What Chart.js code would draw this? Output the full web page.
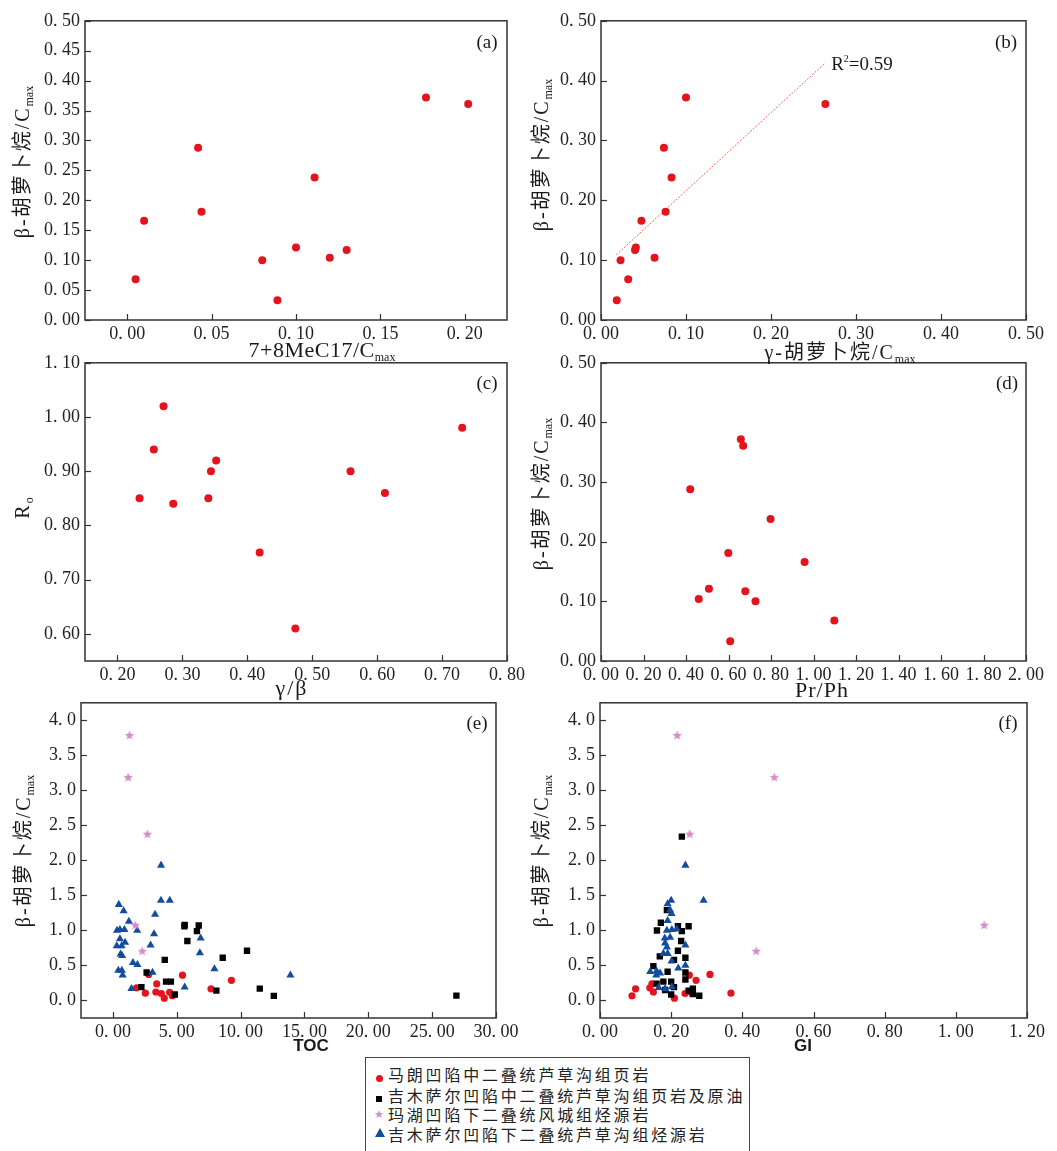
<!DOCTYPE html>
<html><head><meta charset="utf-8">
<script src="https://cdn.jsdelivr.net/npm/chart.js@4.4.0/dist/chart.umd.min.js"></script>
<style>
html,body{margin:0;padding:0;background:#fff;}
body{width:1057px;height:1151px;position:relative;overflow:hidden;font-family:"Liberation Serif","Noto Sans CJK SC",serif;color:#1a1a1a;}
.t{position:absolute;white-space:nowrap;transform:translate(-50%,-50%);line-height:1;}
.rot{transform:translate(-50%,-50%) rotate(-90deg);}
.ttl{font-size:20px;letter-spacing:2px;}
.sub{font-size:12px;letter-spacing:0;position:relative;top:4px;}
.sup{font-size:10px;position:relative;top:-8px;}
.plab{font-size:19px;}
#legend{position:absolute;left:365px;top:1057px;width:385px;height:110px;border:1px solid #444;box-sizing:border-box;}
.lrow{position:absolute;left:22px;font-family:"Noto Sans CJK SC",sans-serif;font-size:16px;letter-spacing:2.8px;line-height:1;transform:translateY(-50%);color:#222;white-space:nowrap;}
.mk{position:absolute;}
</style></head><body>
<script>
// ---------------- DATA ----------------
// panels (a)-(d): 12 samples (马朗凹陷)
const betaCmax   = [0.068,0.166,0.288,0.181,0.100,0.033,0.121,0.238,0.104,0.117,0.372,0.361];
const meC17Cmax  = [0.005,0.010,0.042,0.044,0.080,0.089,0.100,0.111,0.120,0.130,0.177,0.202];
const gammaCmax  = [0.032,0.0475,0.074,0.076,0.023,0.0185,0.041,0.083,0.063,0.040,0.100,0.264];
const prPh       = [1.098,0.958,0.420,0.599,0.727,0.608,0.508,0.798,0.460,0.679,0.658,0.669];
const gammaBeta  = [0.234,0.256,0.271,0.286,0.340,0.344,0.352,0.419,0.474,0.559,0.612,0.731];
const roValues   = [0.85,0.94,1.02,0.84,0.85,0.90,0.92,0.75,0.61,0.90,0.86,0.98];
const fitX = [0.018,0.264];
const fitY = [0.109,0.430];
// panels (e)-(f)
const redTOC = [4.65,7.68,9.28,1.85,3.79,4.02,3.36,3.43,2.54,4.44,2.80,5.45];
const redGI  = [0.090,0.100,0.270,0.140,0.239,0.209,0.150,0.146,0.368,0.255,0.309,0.251];
const blackTOC  = [2.23,2.64,4.06,4.16,4.54,4.85,5.60,5.62,5.83,6.58,6.72,8.10,8.60,10.50,11.50,12.60,26.90];
const blackBetaE= [0.19,0.40,0.58,0.27,0.27,0.086,1.06,1.08,0.85,0.99,1.07,0.14,0.61,0.71,0.17,0.065,0.07];
const blackGI   = [0.230,0.160,0.171,0.188,0.219,0.249,0.230,0.228,0.219,0.208,0.240,0.150,0.168,0.190,0.240,0.240,0.159,0.178,0.200,0.208,0.183,0.200,0.249,0.261,0.261,0.279];
const blackBetaF= [2.34,1.00,1.11,1.29,1.06,1.06,0.99,0.85,0.71,0.58,0.61,0.49,0.63,0.41,0.40,0.30,0.24,0.27,0.27,0.19,0.15,0.085,0.14,0.17,0.09,0.067];
const blueTOC   = [0.46,0.84,3.77,3.76,4.45,1.25,3.30,0.32,0.55,0.90,1.90,0.55,0.95,0.30,0.68,3.22,2.95,0.60,0.72,1.57,1.92,0.42,0.70,0.76,3.10,1.45,6.87,6.81,7.95,5.62,13.90];
const blueBetaE = [1.37,1.28,1.93,1.43,1.43,1.13,1.23,1.00,1.01,1.01,1.00,0.88,0.83,0.78,0.78,0.95,0.79,0.66,0.64,0.54,0.51,0.43,0.43,0.36,0.40,0.17,0.89,0.68,0.45,0.19,0.36];
const blueGI    = [0.240,0.291,0.200,0.190,0.197,0.201,0.190,0.188,0.202,0.216,0.182,0.197,0.183,0.188,0.240,0.178,0.190,0.201,0.240,0.220,0.141,0.159,0.169,0.158,0.165,0.202,0.183];
const blueBetaF = [1.93,1.43,1.43,1.38,1.29,1.24,1.14,1.00,1.01,1.02,0.89,0.90,0.82,0.76,0.79,0.67,0.67,0.56,0.50,0.46,0.41,0.42,0.39,0.36,0.185,0.195,0.17];
const starBeta = [3.79,3.19,2.38,1.08,0.71];
const starTOC  = [1.30,1.20,2.70,1.75,2.30];
const starGI   = [0.217,0.490,0.252,1.080,0.439];
// tick values
const ticksA_x = [0,0.05,0.10,0.15,0.20];
const ticksA_y = [0,0.05,0.10,0.15,0.20,0.25,0.30,0.35,0.40,0.45,0.50];
const ticksB_x = [0,0.1,0.2,0.3,0.4,0.5];
const ticksB_y = [0,0.1,0.2,0.3,0.4,0.5];
const ticksC_x = [0.2,0.3,0.4,0.5,0.6,0.7,0.8];
const ticksC_y = [0.6,0.7,0.8,0.9,1.0,1.1];
const ticksD_x = [0,0.2,0.4,0.6,0.8,1.0,1.2,1.4,1.6,1.8,2.0];
const ticksD_y = [0,0.1,0.2,0.3,0.4,0.5];
const ticksE_x = [0,5,10,15,20,25,30];
const ticksEF_y= [0,0.5,1.0,1.5,2.0,2.5,3.0,3.5,4.0];
const ticksF_x = [0,0.2,0.4,0.6,0.8,1.0,1.2];

// ---------------- helpers ----------------
const pts=(xs,ys)=>xs.map((x,i)=>({x,y:ys[i]}));
const fmt=(v,d)=>Number(v).toFixed(d).replace('.', '. ');
function starImg(size,color){const c=document.createElement('canvas');c.width=c.height=size;const g=c.getContext('2d');g.fillStyle=color;g.beginPath();const cx=size/2,cy=size/2+0.5,R=size/2,r=R*0.45;for(let i=0;i<10;i++){const a=-Math.PI/2+i*Math.PI/5;const rr=i%2?r:R;g.lineTo(cx+rr*Math.cos(a),cy+rr*Math.sin(a));}g.closePath();g.fill();return c;}
const STAR=starImg(10,'#d48fcb');
const RED={pointStyle:'circle',pointRadius:4,backgroundColor:'#e5141c',borderColor:'#e5141c',borderWidth:0};
const REDS={...RED,pointRadius:3.6};
const BLK={pointStyle:'rect',pointRadius:4.5,backgroundColor:'#000',borderColor:'#000',borderWidth:0};
const BLU={pointStyle:'triangle',pointRadius:4.7,backgroundColor:'#134c9e',borderColor:'#134c9e',borderWidth:0};
const STR={pointStyle:STAR,pointRadius:5,backgroundColor:'#d48fcb',borderColor:'#d48fcb',borderWidth:0};

const framePlugin={id:'frame',afterDraw(chart){const {ctx,chartArea:a,scales:{x,y}}=chart;ctx.save();ctx.strokeStyle='#333';ctx.lineWidth=1.5;ctx.strokeRect(a.left,a.top,a.right-a.left,a.bottom-a.top);ctx.lineWidth=1.2;
 x.ticks.forEach(t=>{const p=Math.round(x.getPixelForValue(t.value))+0.5;ctx.beginPath();ctx.moveTo(p,a.bottom);ctx.lineTo(p,a.bottom-6);ctx.stroke();});
 y.ticks.forEach(t=>{const p=Math.round(y.getPixelForValue(t.value))+0.5;ctx.beginPath();ctx.moveTo(a.left,p);ctx.lineTo(a.left+6,p);ctx.stroke();});
 ctx.restore();}};

function axis(o,dir,size){return {type:'linear',min:o.min,max:o.max,
 afterBuildTicks:s=>{s.ticks=o.ticks.map(v=>({value:v}));},
 afterFit:s=>{if(dir==='x')s.height=size;else s.width=size;},
 grid:{display:false,drawTicks:false,tickLength:0},border:{display:false},
 ticks:{autoSkip:false,maxRotation:0,minRotation:0,padding:dir==='x'?3:5,color:'#222',font:{family:'"Liberation Serif", serif',size:18},callback:v=>fmt(v,o.dec)}};}

function panel(rect,xo,yo,datasets){
 const YW=72,PT=15,PR=32,XH=30;const W=rect.r-rect.l,H=rect.b-rect.t;
 const cv=document.createElement('canvas');cv.width=YW+W+PR;cv.height=PT+H+XH;
 cv.style.cssText=`position:absolute;left:${rect.l-YW}px;top:${rect.t-PT}px;width:${cv.width}px;height:${cv.height}px`;
 document.body.appendChild(cv);
 new Chart(cv,{type:'scatter',data:{datasets},options:{responsive:false,animation:false,devicePixelRatio:1,
  layout:{padding:{left:0,top:PT,right:PR,bottom:0}},
  plugins:{legend:{display:false},tooltip:{enabled:false}},
  scales:{x:axis(xo,'x',XH),y:axis(yo,'y',YW)}},plugins:[framePlugin]});
}
function txt(html,x,y,cls,style){const d=document.createElement('div');d.className='t '+(cls||'');d.innerHTML=html;d.style.left=x+'px';d.style.top=y+'px';if(style)d.style.cssText+=style;document.body.appendChild(d);}

// ---------------- panels ----------------
panel({l:85,r:507,t:20,b:320},{min:-0.025,max:0.225,ticks:ticksA_x,dec:2},{min:0,max:0.5,ticks:ticksA_y,dec:2},
 [{...RED,data:pts(meC17Cmax,betaCmax)}]);
panel({l:601,r:1026,t:20,b:320},{min:0,max:0.5,ticks:ticksB_x,dec:2},{min:0,max:0.5,ticks:ticksB_y,dec:2},
 [{...RED,data:pts(gammaCmax,betaCmax)},
  {type:'line',data:pts(fitX,fitY),borderColor:'#ee6a55',borderWidth:1,borderDash:[2,1.5],pointRadius:0,fill:false}]);
panel({l:85,r:507,t:362,b:661},{min:0.15,max:0.8,ticks:ticksC_x,dec:2},{min:0.55,max:1.1,ticks:ticksC_y,dec:2},
 [{...RED,data:pts(gammaBeta,roValues)}]);
panel({l:601,r:1026,t:362,b:661},{min:0,max:2,ticks:ticksD_x,dec:2},{min:0,max:0.5,ticks:ticksD_y,dec:2},
 [{...RED,data:pts(prPh,betaCmax)}]);
panel({l:81,r:496,t:702,b:1018},{min:-2.5,max:30,ticks:ticksE_x,dec:2},{min:-0.25,max:4.25,ticks:ticksEF_y,dec:1},
 [{...STR,data:pts(starTOC,starBeta)},{...BLU,data:pts(blueTOC,blueBetaE)},{...BLK,data:pts(blackTOC,blackBetaE)},{...REDS,data:pts(redTOC,betaCmax)}]);
panel({l:600,r:1027,t:702,b:1018},{min:0,max:1.2,ticks:ticksF_x,dec:2},{min:-0.25,max:4.25,ticks:ticksEF_y,dec:1},
 [{...STR,data:pts(starGI,starBeta)},{...BLU,data:pts(blueGI,blueBetaF)},{...BLK,data:pts(blackGI,blackBetaF)},{...REDS,data:pts(redGI,betaCmax)}]);

// ---------------- texts ----------------
const betaT='β-胡萝卜烷/C<span class="sub">max</span>';
txt(betaT,22,162,'rot ttl');
txt(betaT,541,155,'rot ttl');
txt('R<span class="sub">o</span>',22,508,'rot ttl');
txt(betaT,541,494,'rot ttl');
txt(betaT,23,851,'rot ttl');
txt(betaT,541,851,'rot ttl');
txt('7+8MeC17/C<span class="sub">max</span>',322,350,'ttl','font-size:22px;letter-spacing:0.5px;');
txt('γ-胡萝卜烷/C<span class="sub">max</span>',840,352,'ttl');
txt('γ/β',292,688,'ttl','font-size:22px;');
txt('Pr/Ph',822,690,'ttl','font-size:22px;letter-spacing:1px;');
txt('TOC',311,1045,'','font-family:"Liberation Sans",sans-serif;font-weight:bold;font-size:17px;');
txt('GI',803,1045,'','font-family:"Liberation Sans",sans-serif;font-weight:bold;font-size:17px;');
txt('(a)',487,41,'plab');txt('(b)',1006,41,'plab');txt('(c)',487,382,'plab');
txt('(d)',1007,382,'plab');txt('(e)',477,722,'plab');txt('(f)',1008,722,'plab');
txt('R<span class="sup">2</span>=0.59',862,63,'','font-size:19px;');
</script>
<div id="legend">
 <div class="mk" style="left:10px;top:17px;width:7px;height:7px;border-radius:50%;background:#e5141c;"></div>
 <div class="lrow" style="top:16px;">马朗凹陷中二叠统芦草沟组页岩</div>
 <div class="mk" style="left:10px;top:38px;width:6px;height:6px;background:#000;"></div>
 <div class="lrow" style="top:37px;">吉木萨尔凹陷中二叠统芦草沟组页岩及原油</div>
 <div class="mk" style="left:8px;top:51px;font-size:11px;line-height:1;color:#d48fcb;font-family:'DejaVu Sans';">★</div>
 <div class="lrow" style="top:56px;">玛湖凹陷下二叠统风城组烃源岩</div>
 <div class="mk" style="left:9px;top:70px;width:0;height:0;border-left:5px solid transparent;border-right:5px solid transparent;border-bottom:9px solid #134c9e;"></div>
 <div class="lrow" style="top:76px;">吉木萨尔凹陷下二叠统芦草沟组烃源岩</div>
</div>
</body></html>
